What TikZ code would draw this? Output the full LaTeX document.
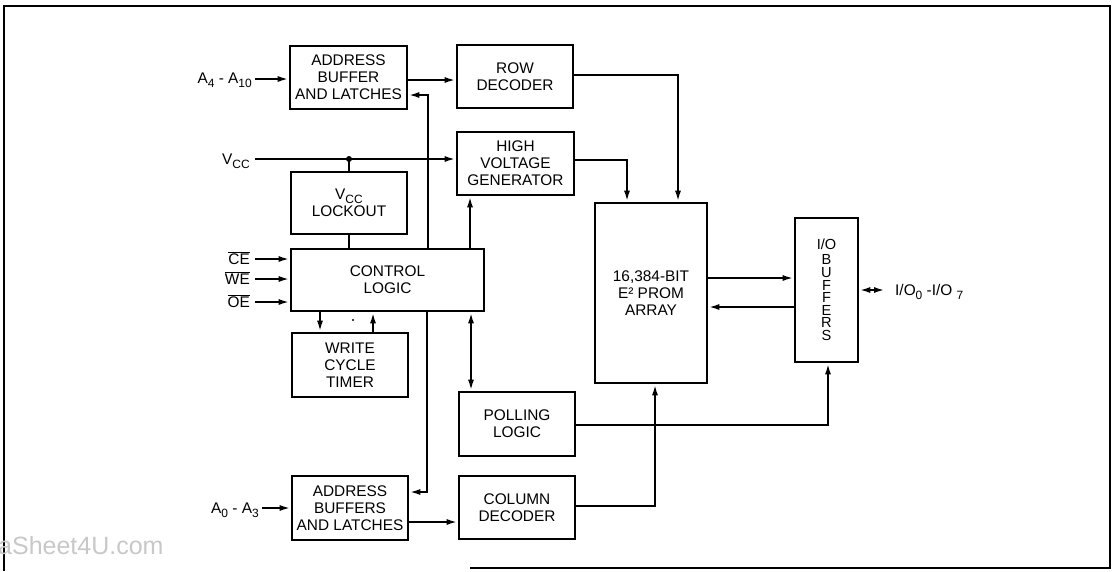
\documentclass[tikz,border=0pt]{standalone}
\usepackage{fontspec}
\setmainfont{Liberation Sans}
\usetikzlibrary{arrows.meta,calc}
\definecolor{wm}{RGB}{200,200,200}
\newcommand\lsub[1]{\raisebox{-4pt}{\fontsize{12}{12}\selectfont #1}}
\newcommand\ovl[1]{$\overline{\mbox{#1}}$}
\begin{document}
\begin{tikzpicture}[x=1pt,y=-1pt,
  blk/.style={draw, line width=2.6pt, inner sep=0pt, align=center, font=\fontsize{15.4}{17}\selectfont},
  wire/.style={line width=2.1pt},
  arw/.style={wire, -{Latex[length=11pt,width=6pt]}},
  barw/.style={wire, {Latex[length=11pt,width=6pt]}-{Latex[length=11pt,width=6pt]}},
  lbl/.style={inner sep=0pt, font=\fontsize{15.4}{17}\selectfont}]
\useasboundingbox (0,0) rectangle (1113,571);
% frame
\draw[line width=2pt] (470,568) -- (1110,568) -- (1110,6) -- (4,6) -- (4,571);
% watermark
\node[anchor=base west, text=wm, font=\fontsize{25}{25}\selectfont, inner sep=0pt] (wmk) at (-2,554) {aSheet4U.com};
% blocks
\node[blk, minimum width=117pt, minimum height=63pt] (ab1) at (348.5,77.5) {ADDRESS\\BUFFER\\AND LATCHES};
\node[blk, minimum width=116pt, minimum height=63pt] (rowdec) at (515,76.5) {ROW\\DECODER};
\node[blk, minimum width=117pt, minimum height=63pt] (hv) at (515.5,163.5) {HIGH\\VOLTAGE\\GENERATOR};
\node[blk, minimum width=116pt, minimum height=62pt] (lock) at (349,203) {V\lsub{CC}\\LOCKOUT};
\node[blk, minimum width=193pt, minimum height=62pt] (ctl) at (387.5,280) {CONTROL\\LOGIC};
\node[blk, minimum width=116pt, minimum height=64pt] (wct) at (350,365) {WRITE\\CYCLE\\TIMER};
\node[blk, minimum width=116pt, minimum height=64pt] (poll) at (517,424) {POLLING\\LOGIC};
\node[blk, minimum width=116pt, minimum height=63pt] (coldec) at (517,507.5) {COLUMN\\DECODER};
\node[blk, minimum width=116pt, minimum height=64pt] (ab2) at (350,508) {ADDRESS\\BUFFERS\\AND LATCHES};
\node[blk, minimum width=112pt, minimum height=180pt] (arr) at (651,293) {16,384-BIT\\E² PROM\\ARRAY};
\node[blk, minimum width=63pt, minimum height=144pt, font=\fontsize{14.6}{12.6}\selectfont] (io) at (826.5,290) {I/O\\[2.5pt]B\\U\\F\\F\\E\\R\\S};
% external labels and free ends
\coordinate (a4in) at (255,79);
\node[lbl, anchor=base east] (a4lbl) at (252,83.5) {A\lsub{4} - A\lsub{10}};
\coordinate (vccin) at (255,159);
\node[lbl, anchor=base east] (vcclbl) at (250,164) {V\lsub{CC}};
\coordinate (vccj) at (349,159);
\coordinate (cein) at (255,259);
\coordinate (wein) at (255,279);
\coordinate (oein) at (255,302);
\node[lbl, anchor=base east] (celbl) at (250,264.5) {\ovl{CE}};
\node[lbl, anchor=base east] (welbl) at (250,284.5) {\ovl{WE}};
\node[lbl, anchor=base east] (oelbl) at (250,307.5) {\ovl{OE}};
\coordinate (a0in) at (262,508);
\node[lbl, anchor=base east] (a0lbl) at (259,513) {A\lsub{0} - A\lsub{3}};
\coordinate (ioout) at (885,290);
\node[lbl, anchor=base west] (iolbl) at (895,295) {I/O\lsub{0} -I/O \lsub{7}};
% connectors
\draw[arw] (a4in) -- (ab1.west |- a4in);
\draw[arw] (ab1.east |- 0,80) -- (rowdec.west |- 0,80);
\draw[arw] (ctl.north -| 428,0) |- (ab1.east |- 0,95);
\draw[arw] (ctl.south -| 427,0) |- (ab2.east |- 0,492);
\draw[arw] (vccin) -- (hv.west |- vccin);
\fill (vccj) circle (3pt);
\draw[wire] (vccj) -- (lock.north -| vccj);
\draw[wire] (lock.south) -- (ctl.north -| lock.south);
\draw[arw] (ctl.north -| 470,0) -- (hv.south -| 470,0);
\draw[arw] (hv.east |- 0,160) -| (arr.north -| 627,0);
\draw[arw] (rowdec.east |- 0,75) -| (arr.north -| 678,0);
\draw[arw] (cein) -- (ctl.west |- cein);
\draw[arw] (wein) -- (ctl.west |- wein);
\draw[arw] (oein) -- (ctl.west |- oein);
\draw[arw] (ctl.south -| 320,0) -- (wct.north -| 320,0);
\draw[arw] (wct.north -| 373,0) -- (ctl.south -| 373,0);
\fill (353,320) circle (1.2pt);
\draw[barw] (ctl.south -| 471,0) -- (poll.north -| 471,0);
\draw[arw] (poll.east |- 0,425) -| (io.south -| 828,0);
\draw[arw] (coldec.east |- 0,506) -| (arr.south -| 655,0);
\draw[arw] (a0in) -- (ab2.west |- a0in);
\draw[arw] (ab2.east |- 0,522) -- (coldec.west |- 0,522);
\draw[arw] (arr.east |- 0,278) -- (io.west |- 0,278);
\draw[arw] (io.west |- 0,307) -- (arr.east |- 0,307);
\draw[barw] (io.east |- 0,290) -- (ioout);
\end{tikzpicture}
\end{document}
